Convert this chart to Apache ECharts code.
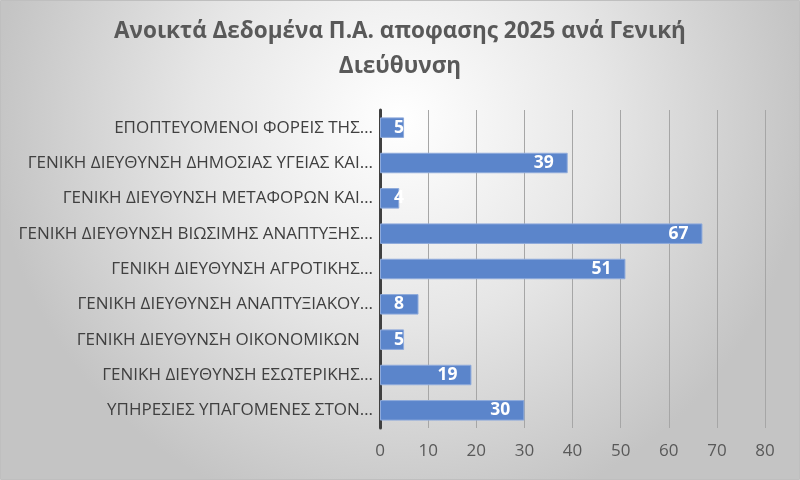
<!DOCTYPE html>
<html><head><meta charset="utf-8">
<script src="https://cdn.jsdelivr.net/npm/echarts@6/dist/echarts.min.js"></script>
<style>html,body{margin:0;padding:0;}#c{width:800px;height:480px;}</style>
</head><body><div id="c"></div>
<script>
const titleText = 'Ανοικτά Δεδομένα Π.Α. αποφασης 2025 ανά Γενική\nΔιεύθυνση';
const categories = [
  'ΕΠΟΠΤΕΥΟΜΕΝΟΙ ΦΟΡΕΙΣ ΤΗΣ…',
  'ΓΕΝΙΚΗ ΔΙΕΥΘΥΝΣΗ ΔΗΜΟΣΙΑΣ ΥΓΕΙΑΣ ΚΑΙ…',
  'ΓΕΝΙΚΗ ΔΙΕΥΘΥΝΣΗ ΜΕΤΑΦΟΡΩΝ ΚΑΙ…',
  'ΓΕΝΙΚΗ ΔΙΕΥΘΥΝΣΗ ΒΙΩΣΙΜΗΣ ΑΝΑΠΤΥΞΗΣ…',
  'ΓΕΝΙΚΗ ΔΙΕΥΘΥΝΣΗ ΑΓΡΟΤΙΚΗΣ…',
  'ΓΕΝΙΚΗ ΔΙΕΥΘΥΝΣΗ ΑΝΑΠΤΥΞΙΑΚΟΥ…',
  'ΓΕΝΙΚΗ ΔΙΕΥΘΥΝΣΗ ΟΙΚΟΝΟΜΙΚΩΝ   ',
  'ΓΕΝΙΚΗ ΔΙΕΥΘΥΝΣΗ ΕΣΩΤΕΡΙΚΗΣ…',
  'ΥΠΗΡΕΣΙΕΣ ΥΠΑΓΟΜΕΝΕΣ ΣΤΟΝ…'
];
const values = [5, 39, 4, 67, 51, 8, 5, 19, 30];
const xTicks = [0, 10, 20, 30, 40, 50, 60, 70, 80];

const seriesData = values.map(v => v <= 8
  ? {value: v, label: {position: 'insideLeft', distance: 14}}
  : {value: v});

const chart = echarts.init(document.getElementById('c'));
chart.setOption({
  animation: false,
  graphic: [{
    type: 'rect', z: -10, silent: true,
    shape: {x: 0.5, y: 0.5, width: 799, height: 479},
    style: {
      fill: {type: 'radial', x: 0.5, y: 0.25, r: 0.85,
        colorStops: [{offset: 0, color: '#ffffff'}, {offset: 0.5, color: '#e6e6e6'}, {offset: 1, color: '#c4c4c4'}]},
      stroke: '#bfbfbf', lineWidth: 1
    }
  }],
  title: {
    text: titleText, left: 'center', top: 9,
    textStyle: {fontFamily: 'Open Sans', fontWeight: 'bold', fontSize: 22.5, color: '#595959', lineHeight: 35}
  },
  grid: {left: 380, right: 35, top: 110, bottom: 52},
  xAxis: {
    type: 'value', min: xTicks[0], max: xTicks[xTicks.length - 1], interval: 10,
    axisLine: {show: false}, axisTick: {show: false},
    axisLabel: {color: '#595959', fontSize: 17, fontFamily: 'Open Sans', margin: 15},
    splitLine: {lineStyle: {color: '#a6a6a6', width: 1}}
  },
  yAxis: {
    type: 'category', data: categories, inverse: true,
    axisLine: {lineStyle: {color: '#404040', width: 3}},
    axisTick: {show: false},
    axisLabel: {color: '#404040', fontSize: 17, fontFamily: 'Open Sans', margin: 7}
  },
  series: [{
    type: 'bar', data: seriesData, barWidth: '58%',
    itemStyle: {color: '#5b85cb', borderColor: '#8eaadb', borderWidth: 1},
    label: {show: true, position: 'insideRight', color: '#ffffff', fontWeight: 'bold',
      fontSize: 17.5, fontFamily: 'Open Sans', distance: 14}
  }]
});
</script></body></html>
